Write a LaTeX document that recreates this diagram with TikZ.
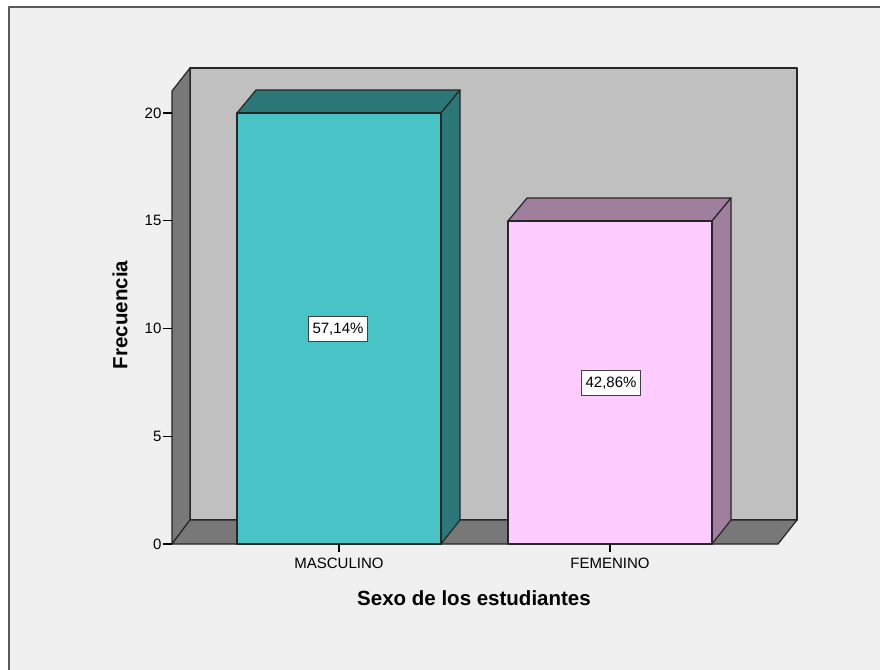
\documentclass[tikz,border=0pt]{standalone}
\usepackage{fontspec}
\setmainfont{Liberation Sans}
\usepackage{tikz}
\definecolor{framebg}{HTML}{F0F0F0}
\definecolor{wall}{HTML}{C0C0C0}
\definecolor{side}{HTML}{787878}
\definecolor{tealfront}{HTML}{48C3C6}
\definecolor{tealdark}{HTML}{2C7878}
\definecolor{pinkfront}{HTML}{FFCCFF}
\definecolor{pinkdark}{HTML}{A07F9E}

\begin{document}
\begin{tikzpicture}[x=1pt, y=-1pt, line width=1.2pt, line join=round,
  lbl/.style = {font=\fontsize{15}{15}\selectfont, inner sep=0pt},
  ttl/.style = {font=\fontsize{20.5}{20.5}\selectfont\bfseries, inner sep=0pt},
  pct/.style = {draw=black!75, fill=white, font=\fontsize{15}{15}\selectfont, inner xsep=4pt, minimum height=25pt}]
\useasboundingbox (0,0) rectangle (880,669);
\fill[white] (0,0) rectangle (880,669);
\filldraw[fill=framebg, draw=gray!70!black, line width=1.6pt] (9,7) rectangle (892,690);
% walls and floor
\filldraw[fill=wall, draw=black!85] (190,68) rectangle (797,520);
\filldraw[fill=side, draw=black!85] (172,91) -- (190,68) -- (190,520) -- (172,544) -- cycle;
\filldraw[fill=side, draw=black!85] (172,544) -- (190,520) -- (797,520) -- (778,544) -- cycle;
% bars
\foreach \xa/\yt/\fc/\dc in {237/113/tealfront/tealdark, 508/221/pinkfront/pinkdark} {
  \pgfmathsetmacro\xb{\xa+204}
  \filldraw[fill=\dc, draw=black!85] (\xa,\yt) -- (\xa+19,\yt-23) -- (\xb+19,\yt-23) -- (\xb,\yt) -- cycle;
  \filldraw[fill=\dc, draw=black!85] (\xb,\yt) -- (\xb+19,\yt-23) -- (\xb+19,520) -- (\xb,544) -- cycle;
  \filldraw[fill=\fc, draw=black!85] (\xa,\yt) rectangle (\xb,544);
}
% y axis
\foreach \v in {0,5,10,15,20} {
  \node[lbl, anchor=east] (y\v) at (162,544-21.55*\v) {\v};
  \draw (163,544-21.55*\v) -- (172,544-21.55*\v);
}
% x axis
\draw (339,544) -- (339,552);
\draw (610,544) -- (610,552);
\node[lbl] (m) at (339,563) {MASCULINO};
\node[lbl] (f) at (610,563) {FEMENINO};
\node[pct] (p1) at (338,329) {57,14\%};
\node[pct] (p2) at (611,383) {42,86\%};
\node[ttl] (xt) at (474,598) {Sexo de los estudiantes};
\node[ttl, rotate=90] (yt) at (120,315) {Frecuencia};
\end{tikzpicture}
\end{document}
